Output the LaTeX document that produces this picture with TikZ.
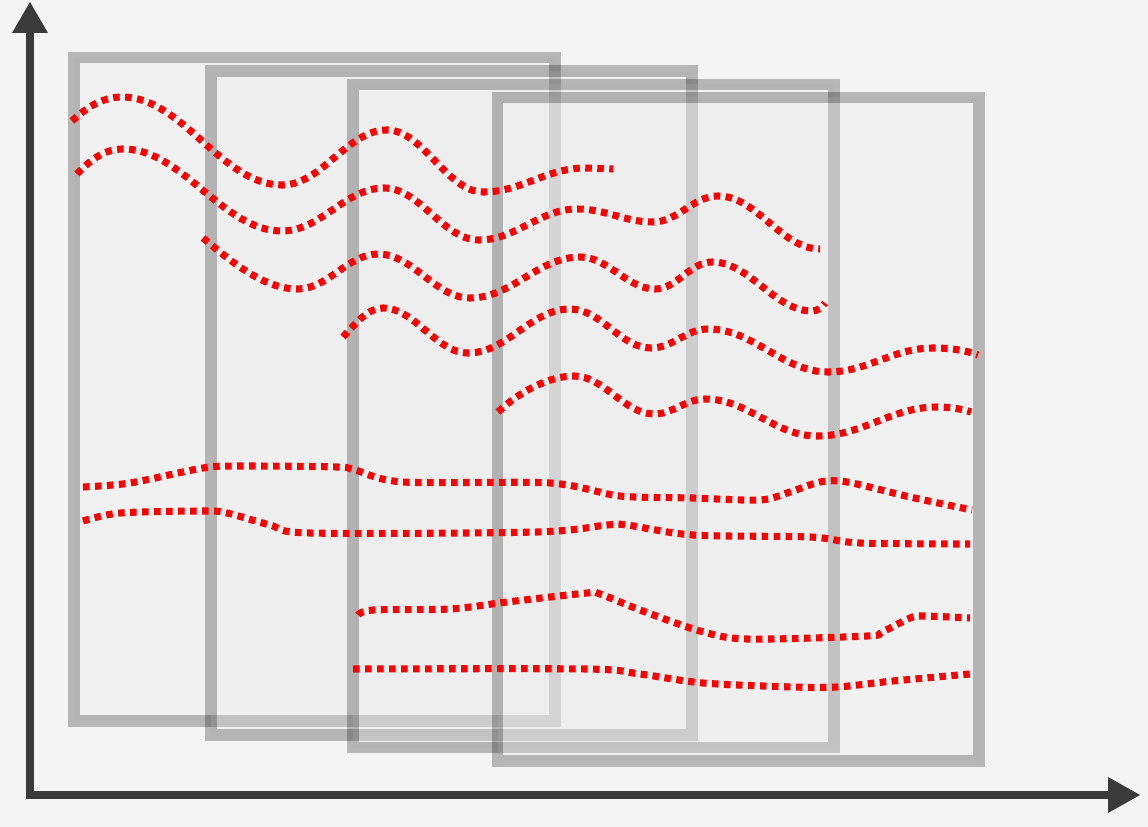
\documentclass[tikz,border=0pt]{standalone}
\definecolor{bgc}{HTML}{F4F4F4}
\definecolor{axisc}{HTML}{3A3A3A}
\definecolor{panelfill}{HTML}{ECECEC}
\definecolor{curvered}{HTML}{FF0000}
\tikzset{
  panel/.style={fill=panelfill, fill opacity=0.25, draw=black, draw opacity=0.25, line width=8.8pt},
  wave/.style={draw=curvered, line width=5.3pt, dash pattern=on 4.9pt off 4.1pt, line cap=butt, line join=round},
  axisline/.style={draw=axisc, line width=6.6pt},
  axishead/.style={fill=axisc}
}
\begin{document}
\begin{tikzpicture}[x=0.75pt,y=-0.75pt]
\useasboundingbox (0,0) rectangle (1148,827);
\fill[bgc] (0,0) rectangle (1148,827);
% axes
\coordinate (origin) at (30,795);
\coordinate (ybase) at (30,32);
\coordinate (ytip) at (30,2);
\coordinate (xbase) at (1109,795);
\coordinate (xtip) at (1140,795);
\draw[axisline] (30,799) -- (ybase);
\fill[axishead] (12,33) -- (48,33) -- (ytip) -- cycle;
\draw[axisline] (26,795) -- (xbase);
\fill[axishead] (1108,777) -- (1108,813) -- (xtip) -- cycle;
% panels
\draw[panel] (74,57.5) rectangle (555,721);
\draw[panel] (211,71) rectangle (692,735);
\draw[panel] (353,84.5) rectangle (834,747.5);
\draw[panel] (497.5,97.5) rectangle (979,761);
% wavy curves
\draw[wave] (72,121) .. controls (88,106) and (104,97) .. (122,97)
  .. controls (183,97) and (221,185) .. (282,185)
  .. controls (322,185) and (347,130) .. (387,130)
  .. controls (423,130) and (447,192) .. (483,192)
  .. controls (522,192) and (546,168) .. (585,168)
  -- (613,169);
\draw[wave] (77,174) .. controls (92,158) and (106,149) .. (123,149)
  .. controls (183,149) and (222,231) .. (282,231)
  .. controls (321,231) and (345,188) .. (384,188)
  .. controls (420,188) and (443,240) .. (479,240)
  .. controls (516,240) and (540,209) .. (577,209)
  .. controls (606,209) and (624,222) .. (653,222)
  .. controls (678,222) and (693,196) .. (718,196)
  .. controls (757,196) and (781,249) .. (820,249);
\draw[wave] (203,238) .. controls (235,265) and (265,289) .. (298,289)
  .. controls (328,289) and (348,254) .. (378,254)
  .. controls (413,254) and (435,298) .. (470,298)
  .. controls (512,298) and (538,257) .. (580,257)
  .. controls (608,257) and (627,289) .. (655,289)
  .. controls (677,289) and (690,262) .. (712,262)
  .. controls (750,262) and (774,311) .. (812,311)
  .. controls (818,311) and (822,307) .. (825,303);
\draw[wave] (343,337) .. controls (356,323) and (368,308) .. (383,308)
  .. controls (415,308) and (436,353) .. (468,353)
  .. controls (507,353) and (531,309) .. (570,309)
  .. controls (601,309) and (620,348) .. (651,348)
  .. controls (673,348) and (686,329) .. (708,329)
  .. controls (754,329) and (782,372) .. (828,372)
  .. controls (868,372) and (893,348) .. (933,348)
  .. controls (950,348) and (965,350) .. (978,355);
\draw[wave] (498,412) .. controls (520,391) and (550,376) .. (574,376)
  .. controls (604,376) and (624,414) .. (654,414)
  .. controls (673,414) and (686,399) .. (705,399)
  .. controls (748,399) and (774,436) .. (817,436)
  .. controls (863,436) and (891,407) .. (937,407)
  .. controls (950,407) and (962,409) .. (971,412);
% flat curves
\draw[wave] plot[smooth, tension=0.5] coordinates {(83,487) (130,483) (203,468) (240,466) (337,467) (355,470) (403,482) (550,483) (620,496) (693,498) (760,500) (790,492) (820,482) (847,482) (910,497) (972,510)};
\draw[wave] plot[smooth, tension=0.5] coordinates {(83,521) (120,513) (203,511) (227,513) (270,525) (310,533) (537,532) (607,525) (627,525) (693,535) (810,537) (860,543) (970,544)};
\draw[wave] plot[smooth, tension=0.5] coordinates {(358,615) (373,610) (450,609) (507,602) (587,593) (600,594) (640,610) (700,631) (747,639) (867,636) (882,632) (910,618) (923,616) (970,618)};
\draw[wave] plot[smooth, tension=0.5] coordinates {(353,669) (587,669) (640,674) (703,683) (793,687) (837,687) (893,681) (970,674)};
\end{tikzpicture}
\end{document}
